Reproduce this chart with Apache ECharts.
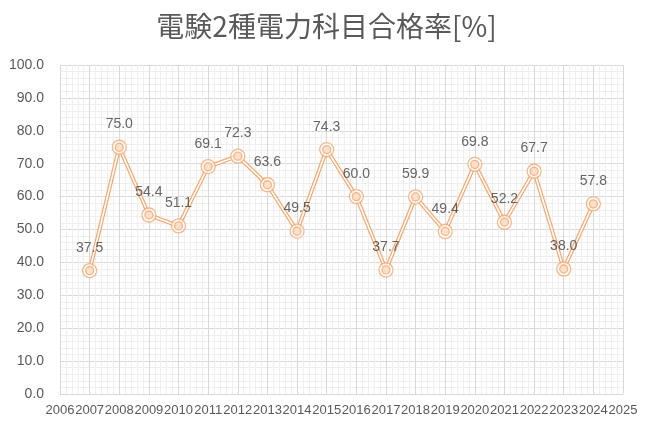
<!DOCTYPE html>
<html><head><meta charset="utf-8">
<script src="https://cdn.jsdelivr.net/npm/echarts@6/dist/echarts.min.js"></script>
<style>html,body{margin:0;padding:0;background:#fff}#c{width:653px;height:432px}</style>
</head><body><div id="c"></div>
<script>
const years = [2007,2008,2009,2010,2011,2012,2013,2014,2015,2016,2017,2018,2019,2020,2021,2022,2023,2024];
const rates = [37.5,75.0,54.4,51.1,69.1,72.3,63.6,49.5,74.3,60.0,37.7,59.9,49.4,69.8,52.2,67.7,38.0,57.8];
const title = '電験2種電力科目合格率[%]';
const xMin = 2006, xMax = 2025, yMin = 0, yMax = 100;

const pts = years.map((y,i)=>[y, rates[i]]);
const orange = '#F4A771';
const font = '"Noto Sans CJK JP", "Noto Sans", sans-serif';
const chart = echarts.init(document.getElementById('c'), null, {renderer:'canvas'});
chart.setOption({
  animation:false,
  title:{text:title,left:'center',top:7,textStyle:{fontFamily:font,fontSize:28,fontWeight:'normal',color:'#595959'}},
  grid:{left:60,right:30,top:65,bottom:38},
  xAxis:{type:'value',min:xMin,max:xMax,interval:1,
    axisLine:{show:false},axisTick:{show:false},
    axisLabel:{formatter:v=>String(v),color:'#595959',fontSize:13,fontFamily:'"Liberation Sans", sans-serif',margin:10},
    splitLine:{show:true,lineStyle:{color:'#D9D9D9',width:1}},
    minorTick:{show:false,splitNumber:5},
    minorSplitLine:{show:true,lineStyle:{color:'#EFEFEF',width:1}}},
  yAxis:{type:'value',min:yMin,max:yMax,interval:10,
    axisLine:{show:false},axisTick:{show:false},
    axisLabel:{formatter:v=>v.toFixed(1),color:'#595959',fontSize:14,fontFamily:'"Liberation Sans", sans-serif',margin:16},
    splitLine:{show:true,lineStyle:{color:'#D9D9D9',width:1}},
    minorTick:{show:false,splitNumber:5},
    minorSplitLine:{show:true,lineStyle:{color:'#EFEFEF',width:1}}},
  series:[
    {type:'line',data:pts,showSymbol:false,lineStyle:{color:orange,width:4},z:2},
    {type:'line',data:pts,showSymbol:false,lineStyle:{color:'#fff',width:1.6},z:3},
    {type:'scatter',data:pts,symbol:'circle',symbolSize:14,itemStyle:{color:'rgba(255,255,255,0.9)',borderColor:orange,borderWidth:1.3},z:4},
    {type:'scatter',data:pts,symbol:'circle',symbolSize:8,itemStyle:{color:'#FBD9BF',borderColor:orange,borderWidth:1.3},z:5,
      label:{show:true,position:'top',distance:11,formatter:p=>p.value[1].toFixed(1),color:'#404040',fontSize:14,fontFamily:'"Liberation Sans", sans-serif'}}
  ]
});
</script></body></html>
